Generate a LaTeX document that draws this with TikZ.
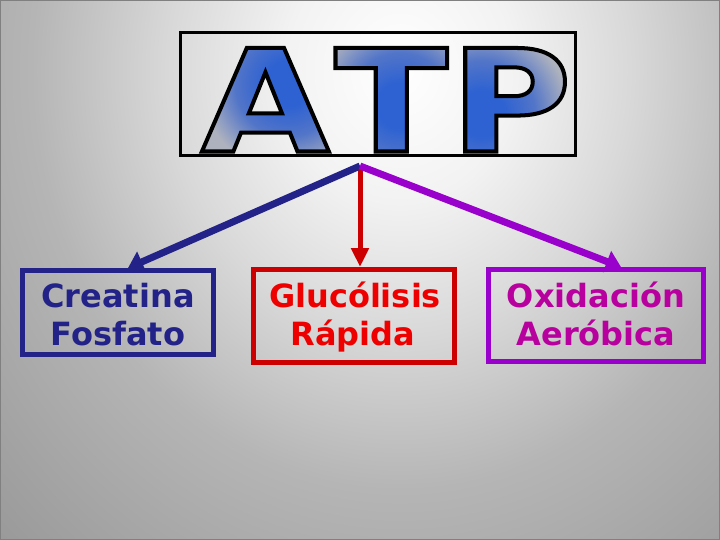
\documentclass[tikz,border=0pt]{standalone}
\usepackage{fontspec}
\usetikzlibrary{arrows.meta}
\newfontfamily\boxfont{DejaVu Sans}
\newfontfamily\atpfont{DejaVu Sans}[FakeStretch=1.17]
\definecolor{navy}{HTML}{222288}
\definecolor{boxred}{HTML}{CC0000}
\definecolor{textred}{HTML}{EE0000}
\definecolor{boxpurple}{HTML}{9900CC}
\definecolor{textpurple}{HTML}{B8009F}
\definecolor{atpblue}{HTML}{4F74C8}
\definecolor{atpcore}{HTML}{2E62D2}
\definecolor{atpmid}{HTML}{5275C8}
\definecolor{atpgray}{HTML}{AEB2BE}
\pgfdeclareradialshading{bgshade}{\pgfpoint{0bp}{0bp}}{color(0bp)=(white); color(4bp)=(white!95!black); color(8bp)=(white!85!black); color(12.8bp)=(white!71!black); color(16.8bp)=(white!65!black); color(20.8bp)=(white!59!black); color(26bp)=(white!54!black); color(50bp)=(white!53!black)}
\pgfdeclareradialshading{letshade}{\pgfpoint{0bp}{0bp}}{color(0bp)=(atpcore); color(5bp)=(atpcore); color(11.5bp)=(atpmid); color(19bp)=(atpgray); color(50bp)=(atpgray)}
\newcommand{\atpletters}{A\kern5pt T\kern2pt P}
\newcommand{\atpsize}{\atpfont\bfseries\fontsize{142}{142}\selectfont}
\tikzset{
  boxstyle/.style={draw, line width=5pt, inner sep=0pt},
  boxtext/.style={anchor=base, inner sep=0pt, font=\boxfont\bfseries\fontsize{32}{38}\selectfont},
  atpstyle/.style={anchor=base east, inner sep=0pt},
}
\begin{document}
\begin{tikzpicture}[x=1pt,y=-1pt]
\useasboundingbox (0,0) rectangle (720,540);
\begin{scope}
  \clip (0,0) rectangle (720,540);
  \shade[shading=bgshade] (400,70) ellipse [x radius=720pt, y radius=820pt];
\end{scope}
\draw[black!50, line width=1pt] (0.5,0.5) rectangle (719.5,539.5);

% ATP title
\node[draw, line width=3pt, minimum width=395pt, minimum height=123pt, inner sep=0pt] (atp) at (378,94) {};
\node[atpstyle] (atpfill) at (572,151.5)
  {\atpsize\color{atpblue}\special{pdf:literal direct 0 0 0 RG 4 w 7 Tr}\atpletters\special{pdf:literal direct 0 Tr}%
   \tikz[overlay,x=1pt,y=1pt,baseline=0pt]{%
     \begin{scope}\clip (-400,-40) rectangle (-237,160); \shade[shading=letshade] (-284,68) circle (115pt);\end{scope}
     \begin{scope}\clip (-237,-40) rectangle (-121,160); \shade[shading=letshade] (-172,46) circle (115pt);\end{scope}
     \begin{scope}\clip (-121,-40) rectangle (10,160); \shade[shading=letshade] (-90,38) circle (115pt);\end{scope}
   }};
\node[atpstyle] (atpline) at (572,151.5)
  {\atpsize\special{pdf:literal direct 0 0 0 RG 4 w 1 Tr}\atpletters\special{pdf:literal direct 0 Tr}};

% boxes
\node[boxstyle, draw=navy, minimum width=191pt, minimum height=84pt] (b1) at (118,312.5) {};
\node[boxstyle, draw=boxred, minimum width=201pt, minimum height=93pt] (b2) at (354,316) {};
\node[boxstyle, draw=boxpurple, minimum width=215pt, minimum height=92pt] (b3) at (596,315.5) {};

\node[boxtext, text=navy] (t1a) at (118,307) {Creatina};
\node[boxtext, text=navy] (t1b) at (118,345) {Fosfato};
\node[boxtext, text=textred] (t2a) at (355,307) {Glucólisis};
\node[boxtext, text=textred] (t2b) at (353,345) {Rápida};
\node[boxtext, text=textpurple] (t3a) at (596,307) {Oxidación};
\node[boxtext, text=textpurple] (t3b) at (596,345) {Aeróbica};

% connectors
\coordinate (hub) at (360,166);
\draw[line width=5pt, boxred, -{Triangle[length=19pt,width=17pt]}] (hub) -- (hub |- b2.north);
\draw[line width=7pt, navy, -{Triangle[length=15pt,width=22pt]}] (hub) -- ([xshift=10pt]b1.north);
\draw[line width=7pt, boxpurple, -{Triangle[length=15pt,width=22pt]}] (hub) -- ([xshift=25pt]b3.north);
\end{tikzpicture}
\end{document}
